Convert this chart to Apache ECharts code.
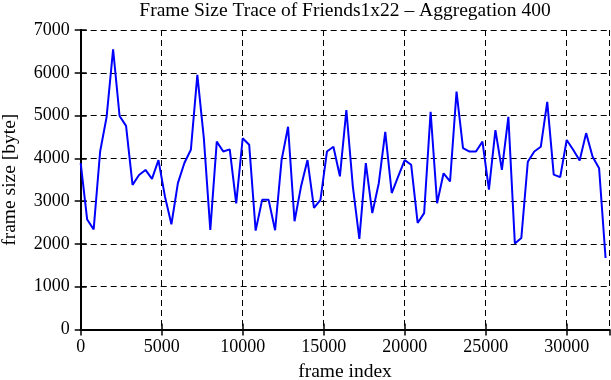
<!DOCTYPE html>
<html>
<head>
<meta charset="utf-8">
<script src="https://cdn.jsdelivr.net/npm/echarts@6/dist/echarts.min.js"></script>
<style>html,body{margin:0;padding:0;background:#fff}#c{width:611px;height:380px}</style>
</head>
<body>
<div id="c"></div>
<script>
const step = 400;
const frameSizes = [
  3890, 2570, 2340, 4160, 4970, 6550, 4990, 4760, 3380, 3610,
  3730, 3520, 3960, 3110, 2460, 3420, 3890, 4200, 5950, 4480,
  2330, 4390, 4160, 4210, 2950, 4470, 4320, 2310, 3030, 3030,
  2320, 3960, 4740, 2530, 3340, 3960, 2840, 3030, 4160, 4270,
  3580, 5130, 3340, 2120, 3890, 2720, 3420, 4620, 3190, 3580,
  3960, 3850, 2490, 2720, 5090, 2950, 3650, 3460, 5560, 4240,
  4160, 4160, 4390, 3270, 4660, 3730, 4970, 2010, 2140, 3920,
  4160, 4270, 5320, 3620, 3560, 4430, 4200, 3950, 4590, 4040,
  3770, 1670
];
const xTicks = [0, 5000, 10000, 15000, 20000, 25000, 30000];
const yTicks = [0, 1000, 2000, 3000, 4000, 5000, 6000, 7000];
const xMax = 32630;

const data = frameSizes.map((v, i) => [i * step, v]);
const font = 'Liberation Serif';
const grid = { left: 80.7, right: 1.7, top: 30, bottom: 50.5, containLabel: false, outerBoundsMode: 'none' };
const dashed = { show: true, lineStyle: { color: '#000', type: [6, 4], width: 1 } };
const chart = echarts.init(document.getElementById('c'), null, { renderer: 'canvas' });
chart.setOption({
  animation: false,
  backgroundColor: '#fff',
  title: {
    text: 'Frame Size Trace of Friends1x22 \u2013 Aggregation 400',
    left: 345, textAlign: 'center', top: 1, padding: 0,
    textStyle: { fontFamily: font, fontSize: 19.5, fontWeight: 'normal', color: '#000' }
  },
  grid: grid,
  xAxis: [{
    type: 'value', min: 0, max: xMax, interval: 5000,
    name: 'frame index', nameLocation: 'middle', nameGap: 32,
    nameTextStyle: { fontFamily: font, fontSize: 19.5, color: '#000' },
    axisLine: { show: true, lineStyle: { color: '#000', width: 2 } },
    axisTick: { show: true, inside: true, length: 6, lineStyle: { color: '#000', width: 1.5 } },
    axisLabel: { fontFamily: font, fontSize: 18, color: '#000', margin: 9, showMaxLabel: false,
      formatter: v => xTicks.includes(v) ? String(v) : '' },
    splitLine: dashed
  }, {
    type: 'value', min: 0, max: xMax, interval: 5000, position: 'top',
    axisLine: { show: true, lineStyle: { color: '#000', width: 2 } },
    axisTick: { show: true, inside: true, length: 6, lineStyle: { color: '#000', width: 1.5 } },
    axisLabel: { show: false }, splitLine: { show: false }
  }],
  yAxis: [{
    type: 'value', min: 0, max: 7000, interval: 1000,
    name: 'frame size [byte]', nameLocation: 'middle', nameGap: 61,
    nameTextStyle: { fontFamily: font, fontSize: 19.5, color: '#000' },
    axisLine: { show: true, lineStyle: { color: '#000', width: 2 } },
    axisTick: { show: true, inside: true, length: 6, lineStyle: { color: '#000', width: 1.5 } },
    axisLabel: { fontFamily: font, fontSize: 18, color: '#000', margin: 11,
      formatter: v => yTicks.includes(v) ? String(v) : '' },
    splitLine: dashed
  }, {
    type: 'value', min: 0, max: 7000, interval: 1000, position: 'right',
    axisLine: { show: true, lineStyle: { color: '#000', width: 2 } },
    axisTick: { show: true, inside: true, length: 6, lineStyle: { color: '#000', width: 1.5 } },
    axisLabel: { show: false }, splitLine: { show: false }
  }],
  series: [{
    type: 'line', data: data, xAxisIndex: 0, yAxisIndex: 0,
    showSymbol: false, symbol: 'none',
    lineStyle: { color: '#0000ff', width: 2 },
    clip: true
  }]
});
</script>
</body>
</html>
